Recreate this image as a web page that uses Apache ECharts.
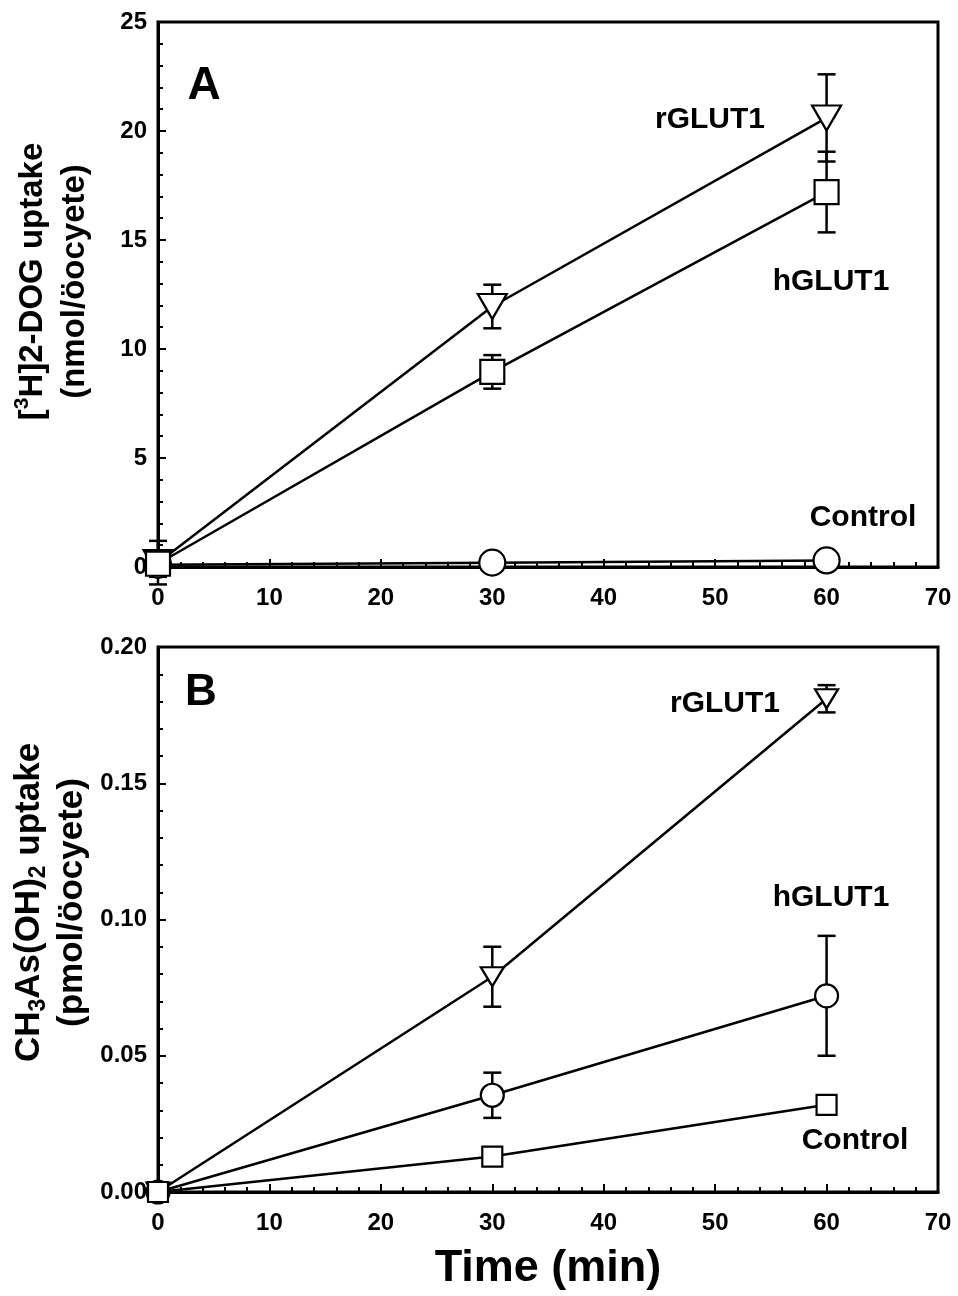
<!DOCTYPE html>
<html>
<head>
<meta charset="utf-8">
<title>GLUT1 uptake</title>
<script src="https://cdn.jsdelivr.net/npm/echarts@6/dist/echarts.min.js"></script>
<style>
  html, body { margin: 0; padding: 0; background: #fff; }
  #chart { width: 958px; height: 1296px; }
</style>
</head>
<body>
<div id="chart"></div>
<script>
// sampling times (min)
var timeMin = [0, 30, 60];

// panel A: [3H]2-DOG uptake (nmol/oocyte)
var aRGlut = [0.2, 11.95, 20.6];
var aRGlutErr = [1.0, 1.0, 2.0];
var aHGlut = [0.15, 8.95, 17.2];
var aHGlutErr = [0.6, 0.77, 1.85];
var aControl = [0.1, 0.2, 0.3];
var aControlErr = [0, 0, 0];

// panel B: CH3As(OH)2 uptake (pmol/oocyte)
var bRGlut = [0, 0.079, 0.181];
var bRGlutErr = [0, 0.011, 0.005];
var bHGlut = [0, 0.0355, 0.072];
var bHGlutErr = [0, 0.0083, 0.022];
var bControl = [0, 0.013, 0.032];
var bControlErr = [0, 0, 0];

var FONT = "'Liberation Sans', Arial, sans-serif";

function pairs(xs, ys) {
  return xs.map(function (x, i) { return [x, ys[i]]; });
}

function errorBars(idx, xs, ys, errs, cap) {
  var data = [];
  xs.forEach(function (x, i) {
    if (errs[i] > 0) data.push([x, ys[i] - errs[i], ys[i] + errs[i]]);
  });
  return {
    type: "custom",
    xAxisIndex: idx,
    yAxisIndex: idx,
    z: 1,
    silent: true,
    encode: { x: 0, y: [1, 2] },
    data: data,
    renderItem: function (params, api) {
      var lo = api.coord([api.value(0), api.value(1)]);
      var hi = api.coord([api.value(0), api.value(2)]);
      var h = cap / 2;
      var st = { stroke: "#000", lineWidth: 2.5 };
      return {
        type: "group",
        children: [
          { type: "line", shape: { x1: lo[0], y1: lo[1], x2: hi[0], y2: hi[1] }, style: st },
          { type: "line", shape: { x1: lo[0] - h, y1: lo[1], x2: lo[0] + h, y2: lo[1] }, style: st },
          { type: "line", shape: { x1: hi[0] - h, y1: hi[1], x2: hi[0] + h, y2: hi[1] }, style: st }
        ]
      };
    }
  };
}

function lineSeries(idx, xs, ys, symbol, size, rotate) {
  return {
    type: "line",
    xAxisIndex: idx,
    yAxisIndex: idx,
    z: 2,
    clip: false,
    data: pairs(xs, ys),
    symbol: symbol,
    symbolSize: size,
    symbolRotate: rotate || 0,
    showSymbol: true,
    lineStyle: { color: "#000", width: 2.5 },
    itemStyle: { color: "#fff", borderColor: "#000", borderWidth: 2.2 },
    emphasis: { disabled: true }
  };
}

function xAxisCfg(idx, withName) {
  var cfg = {
    type: "value",
    gridIndex: idx,
    min: 0,
    max: 70,
    interval: 10,
    axisLine: { lineStyle: { color: "#000", width: 3 } },
    axisTick: { inside: true, length: 8, lineStyle: { color: "#000", width: 2 } },
    minorTick: { show: true, splitNumber: 5, length: 5, lineStyle: { color: "#000", width: 2 } },
    splitLine: { show: false },
    axisLabel: { color: "#000", fontFamily: FONT, fontWeight: "bold", fontSize: 24, margin: 19 }
  };
  if (withName) {
    cfg.name = "Time (min)";
    cfg.nameLocation = "middle";
    cfg.nameGap = 54;
    cfg.nameTextStyle = { color: "#000", fontFamily: FONT, fontWeight: "bold", fontSize: 45 };
  }
  return cfg;
}

function titleRich(size, small, lh) {
  return {
    t: { fontFamily: FONT, fontWeight: "bold", fontSize: size, lineHeight: lh, color: "#000" },
    sup: { fontFamily: FONT, fontWeight: "bold", fontSize: small, lineHeight: small + 3, verticalAlign: "top", color: "#000" },
    sub: { fontFamily: FONT, fontWeight: "bold", fontSize: small, lineHeight: small + 3, verticalAlign: "bottom", color: "#000" }
  };
}

function yAxisCfg(idx, max, interval, name, digits, pad, rich) {
  return {
    type: "value",
    gridIndex: idx,
    min: 0,
    max: max,
    interval: interval,
    name: name,
    nameLocation: "middle",
    nameRotate: 90,
    nameGap: 62,
    nameTextStyle: { rich: rich, padding: pad },
    axisLine: { lineStyle: { color: "#000", width: 3 } },
    axisTick: { inside: true, length: 8, lineStyle: { color: "#000", width: 2 } },
    minorTick: { show: true, splitNumber: 5, length: 5, lineStyle: { color: "#000", width: 2 } },
    splitLine: { show: false },
    axisLabel: {
      color: "#000", fontFamily: FONT, fontWeight: "bold", fontSize: 24, margin: 11,
      formatter: function (v) { return v.toFixed(digits); }
    }
  };
}

function label(text, cx, cy, size) {
  return {
    type: "text",
    x: cx,
    y: cy,
    z: 10,
    style: {
      text: text,
      fill: "#000",
      font: "bold " + size + "px " + FONT,
      textAlign: "center",
      textVerticalAlign: "middle"
    }
  };
}

var chart = echarts.init(document.getElementById("chart"));
var option = {
  animation: false,
  backgroundColor: "#fff",
  grid: [
    { left: 158, top: 22, width: 780, height: 545, show: true, borderColor: "#000", borderWidth: 3, backgroundColor: "transparent" },
    { left: 158, top: 647, width: 780, height: 545, show: true, borderColor: "#000", borderWidth: 3, backgroundColor: "transparent" }
  ],
  xAxis: [xAxisCfg(0, false), xAxisCfg(1, true)],
  yAxis: [
    yAxisCfg(0, 25, 5, "{t|[}{sup|3}{t|H]2-DOG uptake}\n{t|(nmol/öocyete)}", 0, [0, 0, 0, 26], titleRich(33, 21, 42)),
    yAxisCfg(1, 0.2, 0.05, "{t|CH}{sub|3}{t|As(OH)}{sub|2}{t| uptake}\n{t|(pmol/öocyete)}", 2, [0, 0, 0, 34], titleRich(35, 23, 43))
  ],
  series: [
    errorBars(0, timeMin, aRGlut, aRGlutErr, 18),
    errorBars(0, timeMin, aHGlut, aHGlutErr, 18),
    errorBars(0, timeMin, aControl, aControlErr, 18),
    lineSeries(0, timeMin, aRGlut, "triangle", [29, 25], 180),
    lineSeries(0, timeMin, aControl, "circle", 26),
    lineSeries(0, timeMin, aHGlut, "rect", 24),
    errorBars(1, timeMin, bRGlut, bRGlutErr, 18),
    errorBars(1, timeMin, bHGlut, bHGlutErr, 18),
    errorBars(1, timeMin, bControl, bControlErr, 18),
    lineSeries(1, timeMin, bRGlut, "triangle", [23, 19], 180),
    lineSeries(1, timeMin, bHGlut, "circle", 23),
    lineSeries(1, timeMin, bControl, "rect", 20)
  ],
  graphic: [
    label("A", 204, 86, 46),
    label("rGLUT1", 710, 120, 30),
    label("hGLUT1", 831, 282, 30),
    label("Control", 863, 518, 30),
    label("B", 201, 693, 44),
    label("rGLUT1", 725, 704, 30),
    label("hGLUT1", 831, 898, 30),
    label("Control", 855, 1141, 30)
  ]
};
chart.setOption(option);
</script>
</body>
</html>
